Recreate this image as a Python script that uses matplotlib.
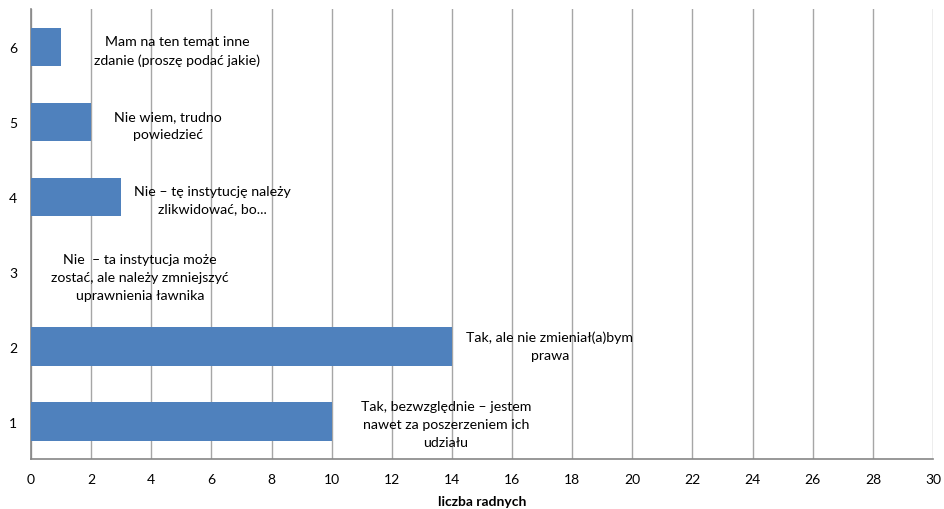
import matplotlib.pyplot as plt

# answer categories (1..6) and number of councillors
categories = [1, 2, 3, 4, 5, 6]
counts = [10, 14, 0, 3, 2, 1]
answers = [
    "Tak, bezwzględnie – jestem\nnawet za poszerzeniem ich\nudziału",
    "Tak, ale nie zmieniał(a)bym\nprawa",
    "Nie  – ta instytucja może\nzostać, ale należy zmniejszyć\nuprawnienia ławnika",
    "Nie – tę instytucję należy\nzlikwidować, bo...",
    "Nie wiem, trudno\npowiedzieć",
    "Mam na ten temat inne\nzdanie (proszę podać jakie)",
]
# where each answer label sits (data coords)
label_x = [13.8, 17.26, 3.63, 6.02, 4.56, 4.86]
label_y = [0.97, 2.01, 2.93, 3.96, 4.95, 5.95]
xticks = list(range(0, 31, 2))

plt.rcParams['font.family'] = ['Lato', 'DejaVu Sans']

fig = plt.figure(figsize=(9.44, 5.10), dpi=100)
ax = fig.add_axes([0.0328, 0.098, 0.9556, 0.882])

ax.barh(categories, counts, height=0.51, color="#4F81BD", zorder=3)

for txt, x, y in zip(answers, label_x, label_y):
    ax.text(x, y, txt, ha="center", va="center", fontsize=10.2,
            linespacing=1.6, color="#000000", zorder=4)

ax.set_xlim(0, 30)
ax.set_ylim(0.5, 6.5)
ax.set_xticks(xticks)
ax.set_yticks(categories)
ax.tick_params(length=0, labelsize=10, pad=10)
ax.tick_params(axis="y", pad=10)
ax.xaxis.grid(True, color="#A6A6A6", linewidth=1)
ax.set_axisbelow(True)

for side in ["top", "right"]:
    ax.spines[side].set_visible(False)
ax.spines["left"].set_color("#868686")
ax.spines["bottom"].set_color("#868686")
ax.spines["left"].set_linewidth(1.2)
ax.spines["bottom"].set_linewidth(1.2)

ax.set_xlabel("liczba radnych", fontsize=10, fontweight="bold", labelpad=7)

fig.savefig("out.png", dpi=100)
